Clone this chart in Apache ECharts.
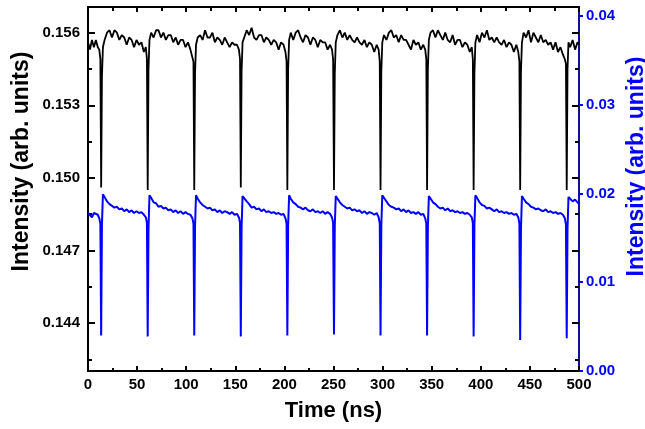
<!DOCTYPE html>
<html><head><meta charset="utf-8">
<script src="https://cdn.jsdelivr.net/npm/echarts@6/dist/echarts.min.js"></script>
<style>html,body{margin:0;padding:0;background:#fff}#c{width:645px;height:429px}</style>
</head><body><div id="c"></div>
<script>
// Time samples (ns), shared by both traces
const time = [
  0, 2, 4, 6, 8, 10, 11.5, 12.6,
  13.4, 14.2, 15.2, 16.9, 19.4, 21.9, 24.4, 26.9, 29.4, 31.9, 34.4, 36.9, 39.4, 41.9, 44.4, 46.9, 49.4, 51.9, 54.4, 56.9, 58.9, 60.0,
  60.8, 61.6, 62.6, 64.3, 66.8, 69.3, 71.8, 74.3, 76.8, 79.3, 81.8, 84.3, 86.8, 89.3, 91.8, 94.3, 96.8, 99.3, 101.8, 104.3, 106.3, 107.4,
  108.2, 109.0, 110.0, 111.7, 114.2, 116.7, 119.2, 121.7, 124.2, 126.7, 129.2, 131.7, 134.2, 136.7, 139.2, 141.7, 144.2, 146.7, 149.2, 151.7, 153.7, 154.8,
  155.6, 156.4, 157.4, 159.1, 161.6, 164.1, 166.6, 169.1, 171.6, 174.1, 176.6, 179.1, 181.6, 184.1, 186.6, 189.1, 191.6, 194.1, 196.6, 199.1, 201.1, 202.2,
  203.0, 203.8, 204.8, 206.5, 209.0, 211.5, 214.0, 216.5, 219.0, 221.5, 224.0, 226.5, 229.0, 231.5, 234.0, 236.5, 239.0, 241.5, 244.0, 246.5, 248.5, 249.6,
  250.5, 251.3, 252.3, 254.0, 256.5, 259.0, 261.5, 264.0, 266.5, 269.0, 271.5, 274.0, 276.5, 279.0, 281.5, 284.0, 286.5, 289.0, 291.5, 294.0, 296.0, 297.1,
  297.9, 298.7, 299.7, 301.4, 303.9, 306.4, 308.9, 311.4, 313.9, 316.4, 318.9, 321.4, 323.9, 326.4, 328.9, 331.4, 333.9, 336.4, 338.9, 341.4, 343.4, 344.5,
  345.3, 346.1, 347.1, 348.8, 351.3, 353.8, 356.3, 358.8, 361.3, 363.8, 366.3, 368.8, 371.3, 373.8, 376.3, 378.8, 381.3, 383.8, 386.3, 388.8, 390.8, 391.9,
  392.7, 393.5, 394.5, 396.2, 398.7, 401.2, 403.7, 406.2, 408.7, 411.2, 413.7, 416.2, 418.7, 421.2, 423.7, 426.2, 428.7, 431.2, 433.7, 436.2, 438.2, 439.3,
  440.1, 440.9, 441.9, 443.6, 446.1, 448.6, 451.1, 453.6, 456.1, 458.6, 461.1, 463.6, 466.1, 468.6, 471.1, 473.6, 476.1, 478.6, 481.1, 483.6, 485.6, 486.7,
  487.5, 488.3, 489.3, 491.0, 493.5, 496.0, 498.5, 500
];
// Black trace (left axis)
const intensityBlack = [
  0.1556, 0.1553, 0.1557, 0.1554, 0.1557, 0.1554, 0.1553, 0.1549,
  0.1496, 0.1542, 0.1554, 0.1557, 0.1560, 0.1561, 0.1558, 0.1561, 0.1560, 0.1557, 0.1559, 0.1558, 0.1555, 0.1558, 0.1557, 0.1554, 0.1557, 0.1555, 0.1556, 0.1552, 0.1554, 0.1549,
  0.1495, 0.1545, 0.1557, 0.1560, 0.1558, 0.1561, 0.1561, 0.1558, 0.1560, 0.1557, 0.1559, 0.1559, 0.1556, 0.1558, 0.1555, 0.1557, 0.1557, 0.1554, 0.1556, 0.1553, 0.1553, 0.1548,
  0.1495, 0.1543, 0.1555, 0.1558, 0.1559, 0.1557, 0.1561, 0.1558, 0.1558, 0.1560, 0.1556, 0.1558, 0.1557, 0.1555, 0.1558, 0.1556, 0.1554, 0.1556, 0.1555, 0.1555, 0.1553, 0.1549,
  0.1496, 0.1544, 0.1556, 0.1558, 0.1561, 0.1559, 0.1562, 0.1558, 0.1557, 0.1559, 0.1559, 0.1556, 0.1558, 0.1557, 0.1555, 0.1557, 0.1556, 0.1553, 0.1556, 0.1555, 0.1552, 0.1548,
  0.1495, 0.1545, 0.1557, 0.1560, 0.1557, 0.1560, 0.1561, 0.1558, 0.1556, 0.1559, 0.1558, 0.1555, 0.1558, 0.1557, 0.1554, 0.1557, 0.1556, 0.1556, 0.1553, 0.1555, 0.1553, 0.1549,
  0.1495, 0.1543, 0.1556, 0.1559, 0.1561, 0.1558, 0.1560, 0.1557, 0.1559, 0.1557, 0.1556, 0.1558, 0.1556, 0.1555, 0.1557, 0.1554, 0.1556, 0.1555, 0.1552, 0.1555, 0.1553, 0.1548,
  0.1495, 0.1544, 0.1556, 0.1559, 0.1557, 0.1560, 0.1561, 0.1558, 0.1559, 0.1556, 0.1559, 0.1557, 0.1557, 0.1555, 0.1553, 0.1557, 0.1555, 0.1556, 0.1553, 0.1555, 0.1553, 0.1549,
  0.1495, 0.1545, 0.1557, 0.1560, 0.1561, 0.1558, 0.1561, 0.1559, 0.1557, 0.1560, 0.1557, 0.1556, 0.1559, 0.1555, 0.1557, 0.1557, 0.1554, 0.1556, 0.1555, 0.1552, 0.1554, 0.1549,
  0.1495, 0.1543, 0.1556, 0.1559, 0.1556, 0.1560, 0.1558, 0.1561, 0.1557, 0.1558, 0.1556, 0.1558, 0.1556, 0.1555, 0.1557, 0.1554, 0.1556, 0.1555, 0.1552, 0.1555, 0.1552, 0.1548,
  0.1495, 0.1544, 0.1556, 0.1560, 0.1558, 0.1561, 0.1556, 0.1560, 0.1558, 0.1556, 0.1559, 0.1556, 0.1557, 0.1555, 0.1556, 0.1553, 0.1556, 0.1552, 0.1554, 0.1551, 0.1549, 0.1547,
  0.1495, 0.1545, 0.1556, 0.1554, 0.1557, 0.1553, 0.1556, 0.1555
];
// Blue trace (right axis)
const intensityBlue = [
  0.0178, 0.0180, 0.0173, 0.0178, 0.0177, 0.0176, 0.0172, 0.0166,
  0.0040, 0.0165, 0.0199, 0.0196, 0.0191, 0.0188, 0.0186, 0.0184, 0.0185, 0.0182, 0.0183, 0.0180, 0.0182, 0.0179, 0.0181, 0.0178, 0.0180, 0.0178, 0.0179, 0.0176, 0.0173, 0.0167,
  0.0039, 0.0160, 0.0198, 0.0195, 0.0190, 0.0189, 0.0185, 0.0186, 0.0183, 0.0184, 0.0181, 0.0182, 0.0179, 0.0181, 0.0178, 0.0180, 0.0177, 0.0179, 0.0177, 0.0176, 0.0172, 0.0166,
  0.0040, 0.0163, 0.0198, 0.0194, 0.0190, 0.0187, 0.0185, 0.0183, 0.0184, 0.0181, 0.0182, 0.0179, 0.0181, 0.0178, 0.0180, 0.0179, 0.0177, 0.0179, 0.0176, 0.0177, 0.0173, 0.0167,
  0.0039, 0.0162, 0.0197, 0.0195, 0.0191, 0.0188, 0.0184, 0.0185, 0.0182, 0.0183, 0.0180, 0.0182, 0.0179, 0.0180, 0.0178, 0.0179, 0.0177, 0.0178, 0.0176, 0.0177, 0.0172, 0.0166,
  0.0040, 0.0164, 0.0198, 0.0194, 0.0190, 0.0188, 0.0185, 0.0184, 0.0182, 0.0184, 0.0181, 0.0180, 0.0182, 0.0179, 0.0180, 0.0178, 0.0180, 0.0177, 0.0179, 0.0177, 0.0173, 0.0167,
  0.0041, 0.0163, 0.0197, 0.0195, 0.0190, 0.0187, 0.0185, 0.0183, 0.0184, 0.0181, 0.0182, 0.0180, 0.0181, 0.0178, 0.0180, 0.0177, 0.0179, 0.0178, 0.0176, 0.0178, 0.0173, 0.0166,
  0.0040, 0.0165, 0.0198, 0.0196, 0.0191, 0.0187, 0.0185, 0.0184, 0.0182, 0.0183, 0.0180, 0.0182, 0.0179, 0.0181, 0.0178, 0.0179, 0.0177, 0.0179, 0.0176, 0.0177, 0.0172, 0.0166,
  0.0040, 0.0162, 0.0197, 0.0195, 0.0190, 0.0188, 0.0185, 0.0183, 0.0184, 0.0181, 0.0183, 0.0180, 0.0181, 0.0179, 0.0180, 0.0178, 0.0179, 0.0177, 0.0178, 0.0176, 0.0173, 0.0167,
  0.0039, 0.0164, 0.0198, 0.0195, 0.0190, 0.0187, 0.0186, 0.0183, 0.0184, 0.0182, 0.0180, 0.0182, 0.0179, 0.0180, 0.0178, 0.0179, 0.0177, 0.0178, 0.0176, 0.0177, 0.0173, 0.0166,
  0.0035, 0.0160, 0.0197, 0.0194, 0.0190, 0.0188, 0.0185, 0.0184, 0.0182, 0.0183, 0.0181, 0.0180, 0.0182, 0.0179, 0.0180, 0.0178, 0.0179, 0.0177, 0.0178, 0.0176, 0.0172, 0.0165,
  0.0037, 0.0160, 0.0196, 0.0194, 0.0191, 0.0193, 0.0190, 0.0188
];
const leftMajorTicks = [0.144, 0.147, 0.150, 0.153, 0.156];
const leftMinorTicks = [0.1425, 0.1455, 0.1485, 0.1515, 0.1545];

const FONT = 'Liberation Sans';
const BLUE = '#0000ff';
const BLUE_DARK = '#10109a';
const LMIN = 0.14202, LMAX = 0.15706;

const n = Math.min(time.length, intensityBlack.length, intensityBlue.length);
const blackData = [], blueData = [];
for (let i = 0; i < n; i++) {
  blackData.push([time[i], intensityBlack[i]]);
  blueData.push([time[i], intensityBlue[i]]);
}

const chart = echarts.init(document.getElementById('c'), null, {renderer: 'canvas'});
const labelStyle = {fontFamily: FONT, fontWeight: 'bold', fontSize: 15, color: '#000'};
const hiddenLine = {show: false, onZero: false};
chart.setOption({
  animation: false,
  backgroundColor: '#fff',
  grid: {left: 88, right: 66, top: 7, bottom: 58, outerBoundsMode: 'none', containLabel: false},
  xAxis: [
    {type: 'value', position: 'bottom', min: 0, max: 500, interval: 50,
     name: 'Time (ns)', nameLocation: 'middle', nameGap: 29, nameMoveOverlap: false,
     nameTextStyle: {fontFamily: FONT, fontWeight: 'bold', fontSize: 22, color: '#000'},
     axisLine: {show: true, onZero: false, lineStyle: {color: '#000', width: 2}},
     axisTick: {show: true, inside: true, length: 5, lineStyle: {color: '#000', width: 2}},
     minorTick: {show: true, splitNumber: 2, length: 3, lineStyle: {color: '#000', width: 2}},
     axisLabel: Object.assign({margin: 6}, labelStyle),
     splitLine: {show: false}},
    {type: 'value', position: 'top', min: 0, max: 500, interval: 50,
     axisLine: {show: true, onZero: false, lineStyle: {color: '#000', width: 2}},
     axisTick: {show: true, inside: true, length: 5, lineStyle: {color: '#000', width: 2}},
     minorTick: {show: true, splitNumber: 2, length: 4, lineStyle: {color: '#000', width: 2}},
     axisLabel: {show: false}, splitLine: {show: false}}
  ],
  yAxis: [
    {type: 'value', position: 'left', min: LMIN, max: LMAX,
     name: 'Intensity (arb. units)', nameLocation: 'middle', nameGap: 55, nameRotate: 90, nameMoveOverlap: false,
     nameTextStyle: {fontFamily: FONT, fontWeight: 'bold', fontSize: 23, color: '#000', padding: [0, 0, 0, 55]},
     axisLine: {show: true, onZero: false, lineStyle: {color: '#000', width: 2}},
     axisTick: {show: true, inside: true, length: 7, customValues: leftMajorTicks, lineStyle: {color: '#000', width: 2}},
     axisLabel: Object.assign({margin: 8, customValues: leftMajorTicks, formatter: v => v.toFixed(3)}, labelStyle),
     splitLine: {show: false}},
    {type: 'value', position: 'right', min: 0, max: 0.041, interval: 0.01,
     name: 'Intensity (arb. units)', nameLocation: 'middle', nameGap: 46, nameRotate: 90, nameMoveOverlap: false,
     nameTextStyle: {fontFamily: FONT, fontWeight: 'bold', fontSize: 23, color: BLUE, padding: [0, 0, 0, 45]},
     axisLine: {show: true, onZero: false, lineStyle: {color: BLUE_DARK, width: 2}},
     axisTick: {show: true, inside: false, length: 4, lineStyle: {color: BLUE, width: 2}},
     axisLabel: Object.assign({}, labelStyle, {margin: 7, color: BLUE, formatter: v => v.toFixed(2)}),
     splitLine: {show: false}},
    {type: 'value', position: 'left', min: LMIN, max: LMAX,
     axisLine: hiddenLine,
     axisTick: {show: true, inside: true, length: 4, customValues: leftMinorTicks, lineStyle: {color: '#000', width: 2}},
     axisLabel: {show: false}, splitLine: {show: false}},
    {type: 'value', position: 'right', min: LMIN, max: LMAX,
     axisLine: hiddenLine,
     axisTick: {show: true, inside: true, length: 7, customValues: leftMajorTicks, lineStyle: {color: '#000', width: 2}},
     axisLabel: {show: false}, splitLine: {show: false}},
    {type: 'value', position: 'right', min: LMIN, max: LMAX,
     axisLine: hiddenLine,
     axisTick: {show: true, inside: true, length: 4, customValues: leftMinorTicks, lineStyle: {color: '#000', width: 2}},
     axisLabel: {show: false}, splitLine: {show: false}}
  ],
  series: [
    {type: 'line', xAxisIndex: 0, yAxisIndex: 0, data: blackData, showSymbol: false, symbol: 'none',
     lineStyle: {color: '#000', width: 1.8}, itemStyle: {color: '#000'}},
    {type: 'line', xAxisIndex: 0, yAxisIndex: 1, data: blueData, showSymbol: false, symbol: 'none',
     lineStyle: {color: BLUE, width: 2}, itemStyle: {color: BLUE}}
  ]
});
</script></body></html>
